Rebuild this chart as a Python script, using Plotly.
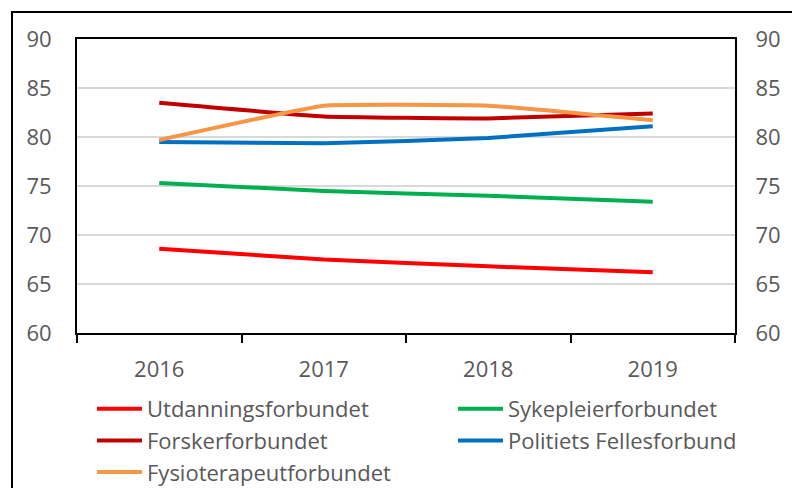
import plotly.graph_objects as go

years = ["2016", "2017", "2018", "2019"]
utdanning = [68.6, 67.5, 66.8, 66.2]
sykepleier = [75.3, 74.5, 74.0, 73.4]
forsker = [83.5, 82.1, 81.9, 82.4]
politiets = [79.5, 79.35, 79.9, 81.1]
fysio = [79.7, 83.2, 83.2, 81.7]

series = [
    ("Utdanningsforbundet", utdanning, "#FF0000", "legend"),
    ("Sykepleierforbundet", sykepleier, "#00B050", "legend2"),
    ("Forskerforbundet", forsker, "#C00000", "legend"),
    ("Politiets Fellesforbund", politiets, "#0070C0", "legend2"),
    ("Fysioterapeutforbundet", fysio, "#F79646", "legend"),
]

FONT = "Open Sans"
TXT = "#595959"

fig = go.Figure()
for name, vals, col, lg in series:
    fig.add_trace(go.Scatter(
        x=years, y=vals, name=name, mode="lines",
        line=dict(color=col, width=4, shape="spline", smoothing=0.3),
        legend=lg,
    ))
# invisible trace for right axis
fig.add_trace(go.Scatter(x=years, y=[None]*4, yaxis="y2", showlegend=False, hoverinfo="skip"))

LEG_TOP = 388
fig.update_layout(
    width=792, height=488,
    margin=dict(l=77, r=57, t=39, b=155, autoexpand=False),
    paper_bgcolor="white", plot_bgcolor="white",
    font=dict(family=FONT, size=22, color=TXT),
    xaxis=dict(
        type="category", range=[-0.5, 3.5],
        showline=True, linecolor="black", linewidth=2, mirror=True,
        ticks="outside", tickson="boundaries", ticklen=8, tickwidth=2, tickcolor="black",
        showgrid=False, ticklabelstandoff=16,
        tickfont=dict(family=FONT, size=22, color=TXT),
    ),
    yaxis=dict(
        range=[60, 90], dtick=5, tick0=60,
        showline=True, linecolor="black", linewidth=2,
        showgrid=True, gridcolor="#D9D9D9", gridwidth=1.5,
        zeroline=False, ticks="", ticklabelstandoff=19,
        tickfont=dict(family=FONT, size=22, color=TXT),
    ),
    yaxis2=dict(
        range=[60, 90], dtick=5, tick0=60, overlaying="y", side="right",
        showline=True, linecolor="black", linewidth=2,
        showgrid=False, zeroline=False, ticks="", ticklabelstandoff=14,
        tickfont=dict(family=FONT, size=22, color=TXT),
    ),
    legend=dict(
        x=(92 - 77) / 658, y=(333 - LEG_TOP) / 294, xanchor="left", yanchor="top",
        orientation="v", itemwidth=45, bgcolor="rgba(0,0,0,0)",
        font=dict(family=FONT, size=22, color=TXT), traceorder="normal",
    ),
    legend2=dict(
        x=(453 - 77) / 658, y=(333 - LEG_TOP) / 294, xanchor="left", yanchor="top",
        orientation="v", itemwidth=45, bgcolor="rgba(0,0,0,0)",
        font=dict(family=FONT, size=22, color=TXT), traceorder="normal",
    ),
    shapes=[dict(
        type="rect", xref="paper", yref="paper",
        x0=(12 - 77) / 658, x1=(810 - 77) / 658,
        y0=(333 - 510) / 294, y1=(333 - 12) / 294,
        line=dict(color="black", width=2), fillcolor="rgba(0,0,0,0)", layer="below",
    )],
    showlegend=True,
)

fig.write_html("out.html", config={"displayModeBar": False},
               post_script="document.body.style.margin='0px';")
